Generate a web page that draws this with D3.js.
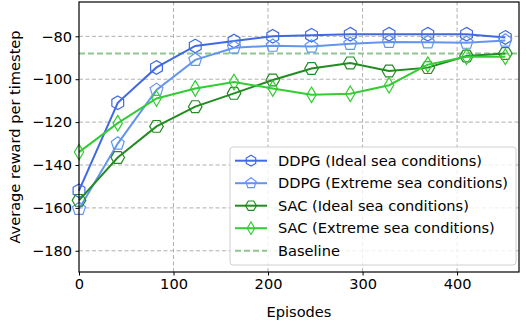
<!DOCTYPE html>
<html>
<head>
<meta charset="utf-8">
<script src="https://cdn.jsdelivr.net/npm/d3@7"></script>
<style>
  body { margin: 0; background: #fff; }
  svg { display: block; font-family: "DejaVu Sans", sans-serif; }
</style>
</head>
<body>
<div id="chart"></div>
<script>
// data
var episodes = [0, 41, 82, 123, 164, 205, 246, 287, 328, 369, 410, 451]
var ddpgIdeal = [-152, -111, -94.5, -84.5, -82.2, -80, -79.5, -79, -79, -79, -79, -80.5]
var ddpgExtreme = [-160.5, -130, -105, -91, -85.3, -84.4, -84.8, -83.5, -82.6, -82.8, -83, -82]
var sacIdeal = [-156.5, -136.5, -122, -112.8, -106.6, -100.4, -95, -92.4, -96.2, -94.6, -89.2, -88]
var sacExtreme = [-134, -120.5, -109, -104.3, -101.3, -104.3, -107.3, -106.8, -102.8, -93.2, -89.5, -89.5]
var baseline = -88
var xTicks = [0, 100, 200, 300, 400]
var yTicks = [-80, -100, -120, -140, -160, -180]

var seriesList = [
    {name: "DDPG (Ideal sea conditions)", values: ddpgIdeal, color: "#4169e1", marker: "h"},
    {name: "DDPG (Extreme sea conditions)", values: ddpgExtreme, color: "#6495ed", marker: "p"},
    {name: "SAC (Ideal sea conditions)", values: sacIdeal, color: "#228b22", marker: "H"},
    {name: "SAC (Extreme sea conditions)", values: sacExtreme, color: "#32cd32", marker: "d"}
]

var width = 526
var height = 321
var margin = {top: 2, right: 7, bottom: 49, left: 79}
var fontSize = 14.6

// polygon marker paths, r = outer radius
function markerPath(type, r) {
    var pts = []
    if (type === "d") {
        pts = [[0, -r], [r * 0.6, 0], [0, r], [-r * 0.6, 0]]
    } else {
        var n = type === "p" ? 5 : 6
        var start = type === "H" ? 0 : -Math.PI / 2
        for (var k = 0; k < n; k++) {
            var a = start + k * 2 * Math.PI / n
            pts.push([r * Math.cos(a), r * Math.sin(a)])
        }
    }
    return "M" + pts.map(p => p[0].toFixed(2) + "," + p[1].toFixed(2)).join("L") + "Z"
}

var markerSize = {h: 6.8, p: 6.8, H: 6.8, d: 7.8}

var svg = d3.select("#chart").append("svg")
    .attr("width", width)
    .attr("height", height)

var x = d3.scaleLinear().domain([0, 465.5]).range([margin.left, width - margin.right])
var y = d3.scaleLinear().domain([-189.9, -64]).range([height - margin.bottom, margin.top])

// grid
var grid = svg.append("g")
grid.selectAll(".gx").data(xTicks.slice(1)).join("line")
    .attr("x1", d => x(d)).attr("x2", d => x(d))
    .attr("y1", y.range()[0]).attr("y2", y.range()[1])
    .attr("stroke", "#b0b0b0").attr("stroke-width", 1).attr("stroke-dasharray", "4,2.5")
grid.selectAll(".gy").data(yTicks).join("line")
    .attr("x1", x.range()[0]).attr("x2", x.range()[1])
    .attr("y1", d => y(d)).attr("y2", d => y(d))
    .attr("stroke", "#b0b0b0").attr("stroke-width", 1).attr("stroke-dasharray", "4,2.5")

// baseline
svg.append("line")
    .attr("x1", x.range()[0]).attr("x2", x.range()[1])
    .attr("y1", y(baseline)).attr("y2", y(baseline))
    .attr("stroke", "#8fc58f").attr("stroke-width", 2).attr("stroke-dasharray", "6,3")

// series
var line = d3.line().x((d, i) => x(episodes[i])).y(d => y(d))
seriesList.forEach(s => {
    var g = svg.append("g")
    g.append("path").datum(s.values)
        .attr("d", line)
        .attr("fill", "none")
        .attr("stroke", s.color)
        .attr("stroke-width", 2)
    g.selectAll("path.m").data(s.values).join("path")
        .attr("class", "m")
        .attr("transform", (d, i) => "translate(" + x(episodes[i]) + "," + y(d) + ")")
        .attr("d", markerPath(s.marker, markerSize[s.marker]))
        .attr("fill", "none")
        .attr("stroke", s.color)
        .attr("stroke-width", 1.2)
})

// axes
var xAxis = d3.axisBottom(x).tickValues(xTicks).tickSize(3.5).tickPadding(3.5)
var yAxis = d3.axisLeft(y).tickValues(yTicks).tickSize(3.5).tickPadding(3.5)
    .tickFormat(d => "\u2212" + Math.abs(d))

var gx = svg.append("g").attr("transform", "translate(0," + y.range()[0] + ")").call(xAxis)
var gy = svg.append("g").attr("transform", "translate(" + x.range()[0] + ",0)").call(yAxis)
;[gx, gy].forEach(g => {
    g.select(".domain").remove()
    g.selectAll("text").attr("font-size", fontSize).attr("fill", "#000").attr("font-family", "DejaVu Sans")
    g.selectAll("line").attr("stroke", "#000")
})

// frame
svg.append("rect")
    .attr("x", x.range()[0]).attr("y", y.range()[1])
    .attr("width", x.range()[1] - x.range()[0])
    .attr("height", y.range()[0] - y.range()[1])
    .attr("fill", "none").attr("stroke", "#000").attr("stroke-width", 1.2)

// labels
svg.append("text")
    .attr("x", (x.range()[0] + x.range()[1]) / 2).attr("y", 317)
    .attr("text-anchor", "middle").attr("font-size", fontSize)
    .text("Episodes")
svg.append("text")
    .attr("transform", "translate(20," + (y.range()[0] + y.range()[1]) / 2 + ") rotate(-90)")
    .attr("text-anchor", "middle").attr("font-size", fontSize)
    .text("Average reward per timestep")

// legend
var lg = svg.append("g")
lg.append("rect")
    .attr("x", 230).attr("y", 147).attr("width", 286).attr("height", 118)
    .attr("rx", 3)
    .attr("fill", "rgba(255,255,255,0.8)").attr("stroke", "#d0d0d0").attr("stroke-width", 1)

var legendItems = seriesList.concat([{name: "Baseline", color: "#8fc58f", marker: null}])
legendItems.forEach((s, i) => {
    var cy = 160.7 + i * 22.5
    var row = lg.append("g")
    row.append("line")
        .attr("x1", 235).attr("x2", 267).attr("y1", cy).attr("y2", cy)
        .attr("stroke", s.color).attr("stroke-width", 2)
        .attr("stroke-dasharray", s.marker ? null : "6,3")
    if (s.marker) {
        row.append("path")
            .attr("transform", "translate(251," + cy + ")")
            .attr("d", markerPath(s.marker, markerSize[s.marker] * 0.8))
            .attr("fill", "none").attr("stroke", s.color).attr("stroke-width", 1.2)
    }
    row.append("text")
        .attr("x", 278).attr("y", cy + 5.2)
        .attr("font-size", fontSize)
        .text(s.name)
})
</script>
</body>
</html>
